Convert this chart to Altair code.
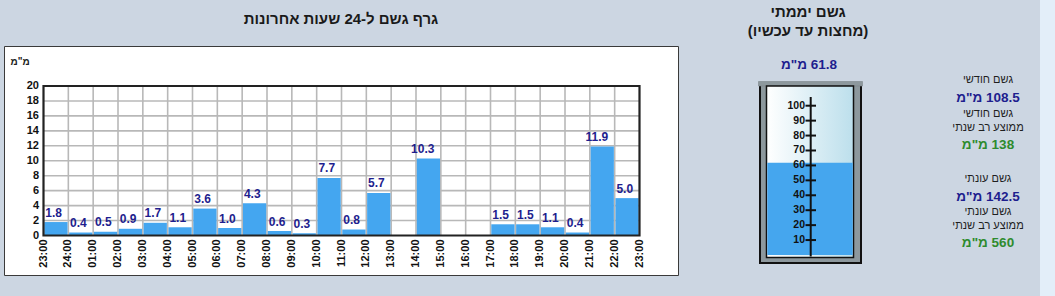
import altair as alt
import pandas as pd

# ---------------- data ----------------
hour_labels = ["23:00", "24:00", "01:00", "02:00", "03:00", "04:00", "05:00", "06:00",
               "07:00", "08:00", "09:00", "10:00", "11:00", "12:00", "13:00", "14:00",
               "15:00", "16:00", "17:00", "18:00", "19:00", "20:00", "21:00", "22:00", "23:00"]
hourly_rain = [1.8, 0.4, 0.5, 0.9, 1.7, 1.1, 3.6, 1.0, 4.3, 0.6, 0.3, 7.7,
               0.8, 5.7, 0.0, 10.3, 0.0, 0.0, 1.5, 1.5, 1.1, 0.4, 11.9, 5.0]
y_ticks = [0, 2, 4, 6, 8, 10, 12, 14, 16, 18, 20]
gauge_ticks = [10, 20, 30, 40, 50, 60, 70, 80, 90, 100]
daily_total = 61.8
monthly_total = 108.5
monthly_avg = 138
season_total = 142.5
season_avg = 560

UNIT = 'מ"מ'
TITLE_LEFT = "גרף גשם ל-24 שעות אחרונות"
TITLE_RIGHT_1 = "גשם יממתי"
TITLE_RIGHT_2 = "(מחצות עד עכשיו)"
RLM = "\u200f"  # right-to-left paragraph, as on the Hebrew source page

# ---------------- style / layout ----------------
FONT = "Liberation Sans, Arial, sans-serif"
BG = "#CCD6E2"
BAR = "#44A6F0"
NAVY = "#1E1E8E"
GREEN = "#2E8B2E"
GRID = "#B8B8B8"
FRAME = "#222222"

PL, PR, PT, PB = 43.5, 639.5, 86.0, 235.5       # bar plot area
GB0, GB100 = 255.0, 105.7                          # gauge scale pixel range

xs = alt.Scale(domain=[0, 24], range=[PL, PR], nice=False)
ys = alt.Scale(domain=[0, 20], range=[PB, PT], nice=False)
gs = alt.Scale(domain=[0, 100], range=[GB0, GB100], nice=False)

bars_df = pd.DataFrame({
    "start": list(range(len(hourly_rain))),
    "end": [i + 1 for i in range(len(hourly_rain))],
    "rain": hourly_rain,
    "base": [0.0] * len(hourly_rain),
    "lbl": [f"{v:.1f}" for v in hourly_rain],
})
xlab_df = pd.DataFrame({"pos": list(range(len(hour_labels))), "lbl": hour_labels})
ytick_df = pd.DataFrame({"v": y_ticks})
gauge_df = pd.DataFrame({"v": gauge_ticks})
water_df = pd.DataFrame({"level": [daily_total], "base": [0.0]})


def box(x, x2, y, y2, **kw):
    return alt.Chart(pd.DataFrame({"a": [0]})).mark_rect(**kw).encode(
        x=alt.value(x), x2=alt.value(x2), y=alt.value(y), y2=alt.value(y2))


def label(text, x, y, size, color, weight="bold", align="center"):
    return alt.Chart(pd.DataFrame({"t": [text]})).mark_text(
        font=FONT, fontSize=size, fontWeight=weight, color=color,
        align=align, baseline="middle").encode(
        text="t:N", x=alt.value(x), y=alt.value(y))


def amount(v):
    return f"{RLM}{v} {UNIT}"


layers = []

# backgrounds
layers.append(box(1040, 1055, 0, 296, color="#E3EEF9"))
layers.append(box(4.5, 678.5, 46.5, 275.5, fill="white", stroke="#3a3a3a", strokeWidth=1))

# grid lines
layers.append(alt.Chart(ytick_df).transform_filter("datum.v > 0 && datum.v < 20").mark_rule(
    color=GRID, strokeWidth=1.6).encode(
    y=alt.Y("v:Q", scale=ys, axis=None), x=alt.value(PL), x2=alt.value(PR)))
layers.append(alt.Chart(xlab_df).transform_filter("datum.pos > 0 && datum.pos < 24").mark_rule(
    color=GRID, strokeWidth=1.6).encode(
    x=alt.X("pos:Q", scale=xs, axis=None), y=alt.value(PT), y2=alt.value(PB)))

# bars
layers.append(alt.Chart(bars_df).mark_rect(color=BAR, xOffset=0.8, x2Offset=-0.8).encode(
    x=alt.X("start:Q", scale=xs, axis=None), x2="end:Q",
    y=alt.Y("rain:Q", scale=ys, axis=None), y2="base:Q"))

# plot frame
layers.append(box(PL, PR, PT, PB, filled=False, stroke=FRAME, strokeWidth=2.2))

# bar value labels (right edge a little past the bar centre)
layers.append(alt.Chart(bars_df).transform_filter("datum.rain > 0").transform_calculate(
    mid="datum.start + 0.5").mark_text(
    font=FONT, fontSize=12, fontWeight="bold", color=NAVY, align="right",
    baseline="bottom", dx=6, dy=-2.5).encode(
    x=alt.X("mid:Q", scale=xs, axis=None),
    y=alt.Y("rain:Q", scale=ys, axis=None), text="lbl:N"))

# y tick labels
layers.append(alt.Chart(ytick_df).mark_text(
    font=FONT, fontSize=11, fontWeight="bold", color="#111", align="right",
    baseline="middle").encode(
    y=alt.Y("v:Q", scale=ys, axis=None), x=alt.value(39), text="v:N"))

# x tick labels
layers.append(alt.Chart(xlab_df).mark_text(
    font=FONT, fontSize=11, fontWeight="bold", color="#111", align="right",
    baseline="middle", angle=270).encode(
    x=alt.X("pos:Q", scale=xs, axis=None), y=alt.value(239.5), text="lbl:N"))

layers.append(label(UNIT, 20, 61.5, 10, "#222"))
layers.append(label(TITLE_LEFT, 341, 19, 15, "#1a1a1a"))

# ---------------- gauge ----------------
grad = alt.Gradient(gradient="linear",
                    stops=[alt.GradientStop(color="#FFFFFF", offset=0),
                           alt.GradientStop(color="#BCDFEC", offset=1)],
                    x1=0, x2=1, y1=0, y2=0)
layers.append(box(760, 861, 84, 263, fill="#8D989D", stroke="#111", strokeWidth=2))
layers.append(box(758.5, 862.5, 81.5, 86, fill="#8D989D", stroke="#7a8488", strokeWidth=0.6))
layers.append(box(766.5, 853.5, 86, 257.5, fill=grad, stroke="#111", strokeWidth=1.5))
layers.append(alt.Chart(water_df).mark_rect(color="#45A6EE").encode(
    y=alt.Y("level:Q", scale=gs, axis=None), y2="base:Q",
    x=alt.value(767.3), x2=alt.value(852.7)))
layers.append(alt.Chart(water_df).mark_rule(color="#111", strokeWidth=2).encode(
    x=alt.value(810.7), y=alt.value(97), y2=alt.value(256.5)))
layers.append(alt.Chart(gauge_df).mark_rule(color="#111", strokeWidth=2).encode(
    y=alt.Y("v:Q", scale=gs, axis=None), x=alt.value(805.5), x2=alt.value(816)))
layers.append(alt.Chart(gauge_df).mark_text(
    font=FONT, fontSize=10.5, fontWeight="bold", color="#111", align="right",
    baseline="middle").encode(
    y=alt.Y("v:Q", scale=gs, axis=None), x=alt.value(805), text="v:N"))

layers.append(label(TITLE_RIGHT_1, 808, 12, 15, "#1a1a1a"))
layers.append(label(TITLE_RIGHT_2, 808, 30.5, 15, "#1a1a1a"))
layers.append(label(amount(daily_total), 809, 64.5, 13.5, NAVY, weight="bold"))

# ---------------- side statistics ----------------
CX = 988
LBL = "#1f1f1f"
layers.append(label("גשם חודשי", CX, 80, 11, LBL, weight="normal"))
layers.append(label(amount(monthly_total), CX, 97.5, 13.5, NAVY, weight="bold"))
layers.append(label("גשם חודשי", CX, 114, 11, LBL, weight="normal"))
layers.append(label("ממוצע רב שנתי", CX, 128, 11, LBL, weight="normal"))
layers.append(label(amount(monthly_avg), CX, 144.5, 13.5, GREEN, weight="bold"))
layers.append(label("גשם עונתי", CX, 179, 11, LBL, weight="normal"))
layers.append(label(amount(season_total), CX, 196.5, 13.5, NAVY, weight="bold"))
layers.append(label("גשם עונתי", CX, 212, 11, LBL, weight="normal"))
layers.append(label("ממוצע רב שנתי", CX, 226, 11, LBL, weight="normal"))
layers.append(label(amount(season_avg), CX, 242.5, 13.5, GREEN, weight="bold"))

chart = alt.layer(*layers).resolve_scale(x="independent", y="independent").properties(
    width=1055, height=296, padding=0,
    autosize=alt.AutoSizeParams(type="none"), background=BG,
).configure_view(stroke=None)

chart.save("out.html", embed_options={"renderer": "svg", "actions": False})
